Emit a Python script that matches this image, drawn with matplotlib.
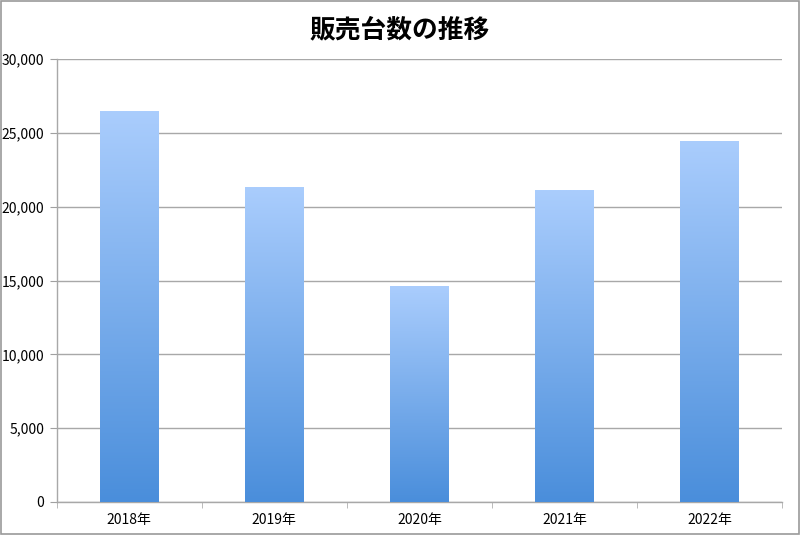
import matplotlib
matplotlib.use("Agg")
import matplotlib.pyplot as plt
import numpy as np
from matplotlib.colors import LinearSegmentedColormap
from matplotlib.ticker import FuncFormatter, FixedLocator
from matplotlib.patches import Rectangle

plt.rcParams['font.family'] = ['Noto Sans CJK JP', 'DejaVu Sans']

categories = ["2018年", "2019年", "2020年", "2021年", "2022年"]
values = [26450, 21300, 14600, 21100, 24450]
title = "販売台数の推移"

fig = plt.figure(figsize=(8, 5.35), dpi=100)
fig.patches.append(Rectangle((0.001, 0.001), 0.998, 0.998, transform=fig.transFigure,
                             fill=False, edgecolor="#9a9a9a", linewidth=1.2))
ax = fig.add_axes([0.071, 0.0617, 0.9065, 0.828])

x = np.arange(len(categories))
bars = ax.bar(x, values, width=0.4, color="none", edgecolor="none", zorder=3)

cmap = LinearSegmentedColormap.from_list("g", ["#4a8edb", "#aacdfd"])
grad = np.linspace(0, 1, 256).reshape(-1, 1)
for b in bars:
    x0, y0 = b.get_x(), b.get_y()
    w, h = b.get_width(), b.get_height()
    im = ax.imshow(grad, cmap=cmap, origin="lower", aspect="auto",
                   extent=[x0, x0 + w, y0, y0 + h], zorder=3)
    im.set_clip_path(b)

ax.set_xlim(-0.5, len(categories) - 0.5)
ax.set_ylim(0, 30000)
ax.set_yticks(np.arange(0, 30001, 5000))
ax.yaxis.set_major_formatter(FuncFormatter(lambda v, p: f"{int(v):,}"))
ax.set_xticks(x)
ax.set_xticklabels(categories)
ax.xaxis.set_minor_locator(FixedLocator(np.arange(-0.5, len(categories), 1.0)))
ax.tick_params(axis="x", which="major", length=0, pad=8, labelsize=10)
ax.tick_params(axis="x", which="minor", length=4, color="#b0b0b0", direction="out")
ax.tick_params(axis="y", length=5, color="#a0a0a0", labelsize=10, pad=4)

ax.grid(axis="y", color="#a8a8a8", linewidth=1.0, zorder=0)
ax.set_axisbelow(True)
for s in ["top", "right"]:
    ax.spines[s].set_visible(False)
for s in ["left", "bottom"]:
    ax.spines[s].set_color("#a8a8a8")
    ax.spines[s].set_linewidth(1.0)

fig.text(0.5, 0.944, title, ha="center", va="center", fontsize=18.5, fontweight="bold")

fig.savefig("out.png", dpi=100)
